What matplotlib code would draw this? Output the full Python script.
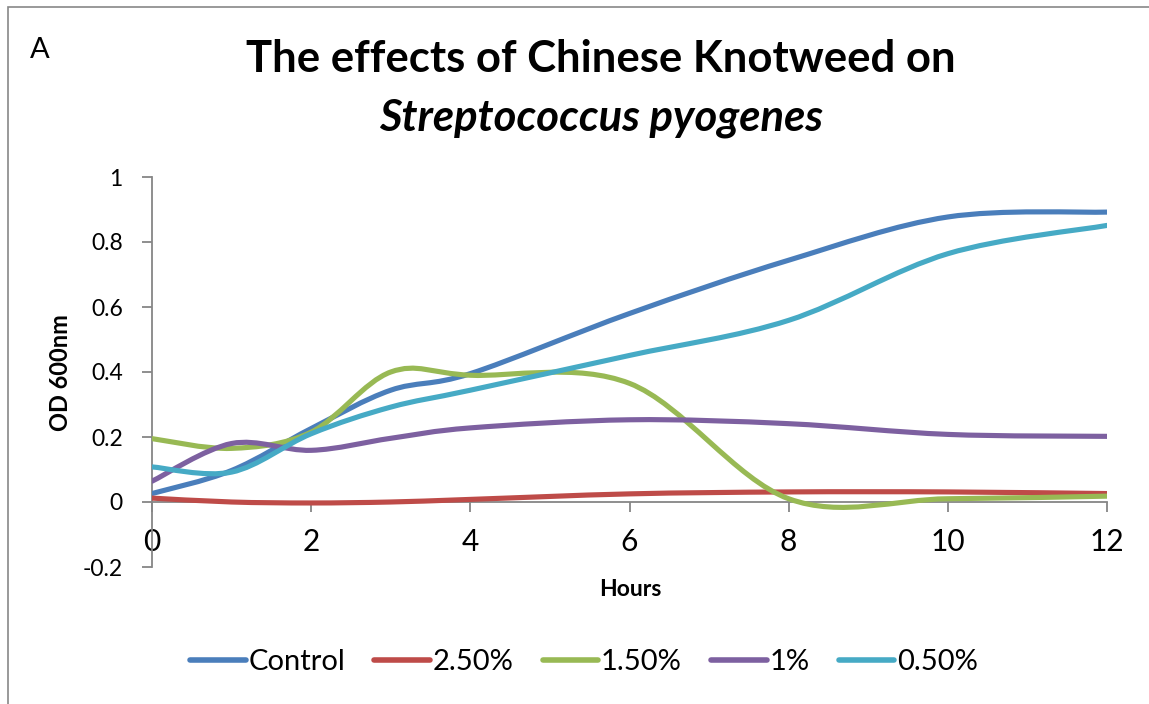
import numpy as np
import matplotlib
matplotlib.use("Agg")
import matplotlib.pyplot as plt
from matplotlib.path import Path
from matplotlib.patches import PathPatch, Rectangle
from matplotlib.lines import Line2D

hours = [0, 1, 2, 3, 4, 6, 8, 10, 12]
series_names = ["Control", "2.50%", "1.50%", "1%", "0.50%"]
control = [0.026, 0.097, 0.226, 0.344, 0.395, 0.580, 0.744, 0.877, 0.892]
pct_2_50 = [0.012, 0.000, -0.003, 0.000, 0.008, 0.025, 0.031, 0.031, 0.026]
pct_1_50 = [0.195, 0.165, 0.215, 0.400, 0.390, 0.365, 0.010, 0.010, 0.018]
pct_1 = [0.064, 0.180, 0.159, 0.196, 0.228, 0.253, 0.241, 0.208, 0.202]
pct_0_50 = [0.108, 0.092, 0.210, 0.292, 0.344, 0.451, 0.559, 0.764, 0.851]
colors = ["#4A7EBB", "#BE4B48", "#98B954", "#7D60A0", "#46AAC5"]
xticks = [0, 2, 4, 6, 8, 10, 12]
yticks = [-0.2, 0, 0.2, 0.4, 0.6, 0.8, 1]
ytick_labels = ["-0.2", "0", "0.2", "0.4", "0.6", "0.8", "1"]

FONT = "Lato"
W, H = 1149, 704
fig = plt.figure(figsize=(W / 100, H / 100), dpi=100)

# outer chart border
fig.patches.append(Rectangle((8 / W, -0.1), 1.2, 1 - 7 / H + 0.1, transform=fig.transFigure,
                             fill=False, edgecolor="#878787", linewidth=1.2))

ax = fig.add_axes([152 / W, (H - 567) / H, 955 / W, 390 / H])
ax.set_xlim(0, 12)
ax.set_ylim(-0.2, 1)


def smooth_path(xs, ys):
    pts = np.column_stack([xs, ys]).astype(float)
    n = len(pts)
    verts = [pts[0]]
    codes = [Path.MOVETO]
    for i in range(n - 1):
        p0 = pts[i - 1] if i > 0 else pts[i]
        p1 = pts[i]
        p2 = pts[i + 1]
        p3 = pts[i + 2] if i + 2 < n else pts[i + 1]
        c1 = p1 + (p2 - p0) / 6.0
        c2 = p2 - (p3 - p1) / 6.0
        verts += [c1, c2, p2]
        codes += [Path.CURVE4] * 3
    return Path(verts, codes)


all_series = [control, pct_2_50, pct_1_50, pct_1, pct_0_50]
for vals, col in zip(all_series, colors):
    patch = PathPatch(smooth_path(hours, vals), fill=False, edgecolor=col,
                      linewidth=3.7, capstyle="round", joinstyle="round", zorder=3)
    ax.add_patch(patch)

for s in ["top", "right"]:
    ax.spines[s].set_visible(False)
ax.spines["bottom"].set_position(("data", 0))
for s in ["left", "bottom"]:
    ax.spines[s].set_color("#868686")
    ax.spines[s].set_linewidth(1.3)

ax.set_xticks(xticks)
ax.set_xticklabels([str(v) for v in xticks])
ax.set_yticks(yticks)
ax.set_yticklabels(ytick_labels)
ax.tick_params(axis="x", direction="out", length=7, width=1.3, color="#868686",
               pad=12, labelsize=21.5)
ax.tick_params(axis="y", direction="out", length=7, width=1.3, color="#868686",
               pad=14, labelsize=16.5)
for lab in ax.get_xticklabels() + ax.get_yticklabels():
    lab.set_fontfamily(FONT)

fig.text(40 / W, 1 - 58 / H, "A", fontsize=21, family=FONT, ha="center", va="baseline")
t1 = fig.text(601 / W, 1 - 72 / H, "The effects of Chinese Knotweed on", fontsize=29,
              family=FONT, fontweight="bold", ha="center", va="baseline")
t2 = fig.text(601 / W, 1 - 130 / H, "Streptococcus pyogenes", fontsize=29,
              family=FONT, fontweight="bold", style="italic", ha="center", va="baseline")
# fit title width to the reference line width
renderer = fig.canvas.get_renderer()
w1 = t1.get_window_extent(renderer).width
scale = 708.0 / w1
t1.set_fontsize(29 * scale)
t2.set_fontsize(29 * scale)

fig.text(61 / W, 1 - 373 / H, "OD 600nm", fontsize=17, family=FONT, fontweight="bold",
         rotation=90, ha="center", va="center")
fig.text(630 / W, 1 - 589 / H, "Hours", fontsize=16.5, family=FONT, fontweight="bold",
         ha="center", va="center")

handles = [Line2D([0], [0], color=c, linewidth=4, solid_capstyle="round") for c in colors]
fig.legend(handles, series_names, loc="center", bbox_to_anchor=(584 / W, 1 - 662 / H),
           ncol=5, frameon=False, prop={"family": FONT, "size": 21},
           handlelength=1.9, handletextpad=0.1, columnspacing=1.0)

fig.savefig("out.png", dpi=100)
